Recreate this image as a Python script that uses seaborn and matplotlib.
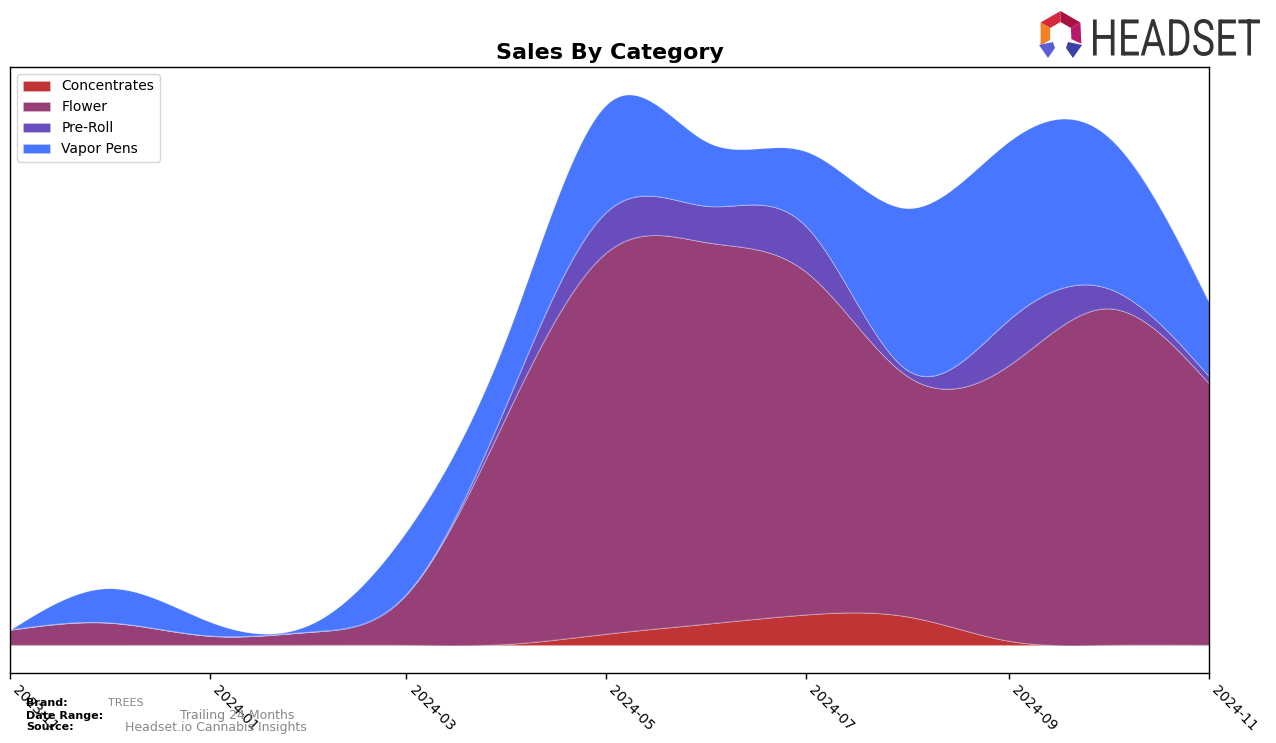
import numpy as np
import pandas as pd
import matplotlib
matplotlib.use("Agg")
import matplotlib.pyplot as plt
import matplotlib.dates as mdates
from matplotlib.textpath import TextPath
from matplotlib.font_manager import FontProperties
from matplotlib.patches import PathPatch, Polygon
from matplotlib.transforms import Affine2D
import seaborn as sns

# ---------------- data (monthly, arbitrary sales units) ----------------
months = ["2023-11", "2023-12", "2024-01", "2024-02", "2024-03", "2024-04", "2024-05",
          "2024-06", "2024-07", "2024-08", "2024-09", "2024-10", "2024-11"]
categories = ["Concentrates", "Flower", "Pre-Roll", "Vapor Pens"]
concentrates = [0, 0, 0, 0, 0, 1, 11, 21, 30, 28, 4, 0, 0]
flower = [15, 22, 9, 13, 50, 228, 376, 376, 338, 237, 272, 332, 258]
pre_roll = [0, 0, 0, 0, 0, 12, 40, 36, 45, 6, 45, 20, 7]
vapor_pens = [0, 34, 14, 8, 62, 66, 106, 63, 74, 160, 176, 150, 73]
colors = ["#c13436", "#964077", "#6a4dbc", "#4876ff"]

brand = "TREES"
date_range = "Trailing 24 Months"
source = "Headset.io Cannabis Insights"

# ---------------- smoothing helper (natural cubic spline) ----------------
def natural_spline(x, y, xs):
    x = np.asarray(x, float)
    y = np.asarray(y, float)
    n = len(x)
    h = np.diff(x)
    A = np.zeros((n, n))
    b = np.zeros(n)
    A[0, 0] = A[-1, -1] = 1.0
    for i in range(1, n - 1):
        A[i, i - 1] = h[i - 1]
        A[i, i] = 2 * (h[i - 1] + h[i])
        A[i, i + 1] = h[i]
        b[i] = 3 * ((y[i + 1] - y[i]) / h[i] - (y[i] - y[i - 1]) / h[i - 1])
    c = np.linalg.solve(A, b)
    bc = (y[1:] - y[:-1]) / h - h * (2 * c[:-1] + c[1:]) / 3
    d = (c[1:] - c[:-1]) / (3 * h)
    idx = np.clip(np.searchsorted(x, xs) - 1, 0, n - 2)
    dx = xs - x[idx]
    return y[idx] + bc[idx] * dx + c[idx] * dx ** 2 + d[idx] * dx ** 3

dates = pd.to_datetime(months)
xnum = mdates.date2num(dates)
xs = np.linspace(xnum[0], xnum[-1], 800)
series = [concentrates, flower, pre_roll, vapor_pens]
smooth = [natural_spline(xnum, s, xs) for s in series]

# ---------------- figure ----------------
sns.set_style("white")
plt.rcParams["font.family"] = ["DejaVu Sans"]
plt.rcParams.update({"text.color": "black", "axes.labelcolor": "black",
                     "xtick.color": "black", "ytick.color": "black",
                     "axes.edgecolor": "black"})
W, H = 1276, 743
fig = plt.figure(figsize=(W / 100, H / 100), dpi=100)
ax = fig.add_axes([10 / W, 1 - 673 / H, (1209 - 10) / W, (673 - 67) / H])

ax.stackplot(xs, *smooth, labels=categories, colors=colors, linewidth=0.4,
             edgecolor=(1, 1, 1, 0.35))

# thin boundary lines drawn through seaborn
cum = np.cumsum(np.vstack(smooth), axis=0)
for k in range(cum.shape[0]):
    sns.lineplot(x=xs, y=cum[k], ax=ax, color=(1, 1, 1, 0.25), linewidth=0.5,
                 legend=False)

ax.set_xlim(xnum[0], xnum[-1])
ax.margins(y=0.05)
ax.xaxis.set_major_locator(mdates.MonthLocator(bymonth=[1, 3, 5, 7, 9, 11]))
ax.xaxis.set_major_formatter(mdates.DateFormatter("%Y-%m"))
ax.tick_params(axis="x", labelsize=10, length=4, width=1, color="black",
               labelcolor="black", bottom=True, direction="out")
plt.setp(ax.get_xticklabels(), rotation=-45, ha="left")
ax.set_yticks([])
ax.set_xlabel("")
ax.set_ylabel("")
for sp in ax.spines.values():
    sp.set_visible(True)
    sp.set_color("black")
    sp.set_linewidth(1.0)

ax.set_title("Sales By Category", fontsize=16, fontweight="bold", pad=6,
             color="black")
leg = ax.legend(loc="upper left", fontsize=10, frameon=True)
leg.get_frame().set_edgecolor("#cccccc")
for t in leg.get_texts():
    t.set_color("black")

# ---------------- footer text ----------------
def fy(py):
    return 1 - py / H

fig.text(26 / W, fy(703), "Brand:", fontsize=8, fontweight="bold", va="center", color="black")
fig.text(108 / W, fy(703), brand, fontsize=8, color="#888888", va="center")
fig.text(26 / W, fy(716), "Date Range:", fontsize=8, fontweight="bold", va="center", color="black")
fig.text(180 / W, fy(716), date_range, fontsize=9, color="#888888", va="center")
fig.text(26 / W, fy(727), "Source:", fontsize=8, fontweight="bold", va="center", color="black")
fig.text(125 / W, fy(727), source, fontsize=9, color="#888888", va="center")

# ---------------- logo ----------------
def px(points):
    return [(x, H - y) for x, y in points]

tp = TextPath((0, 0), "HEADSET", size=100, prop=FontProperties(family="Roboto"))
bb = tp.get_extents()
tr = (Affine2D().translate(-bb.x0, -bb.y0)
      .scale((1260 - 1093) / bb.width, (56 - 19) / bb.height)
      .translate(1093, H - 56))
fig.add_artist(PathPatch(tp, transform=tr, facecolor="#333333", lw=0))

cx, cy = 1060.5, 34
Ro, Ri = 23, 12
def ring_seg(a0, a1, Ro=Ro, Ri=Ri):
    a = np.radians([a0, a1])
    outer = [(cx + Ro * np.cos(t), cy - Ro * np.sin(t)) for t in a]
    inner = [(cx + Ri * np.cos(t), cy - Ri * np.sin(t)) for t in a[::-1]]
    return outer + inner

logo_parts = [
    (ring_seg(150, 90), "#d42a3c"),
    (ring_seg(90, 30), "#a8123f"),
    (ring_seg(30, -25), "#b8176e"),
    (ring_seg(210, 150), "#f48024"),
]
for pts, col in logo_parts:
    fig.add_artist(Polygon(px(pts), closed=True, transform=Affine2D(),
                           facecolor=col, lw=0))
legs = [
    ([(1039, 45), (1053, 42), (1055, 48), (1048, 58)], "#5a5fd6"),
    ([(1082, 45), (1068, 42), (1066, 48), (1073, 58)], "#3b3fa8"),
]
for pts, col in legs:
    fig.add_artist(Polygon(px(pts), closed=True, transform=Affine2D(),
                           facecolor=col, lw=0))

fig.savefig("out.png", dpi=100)
